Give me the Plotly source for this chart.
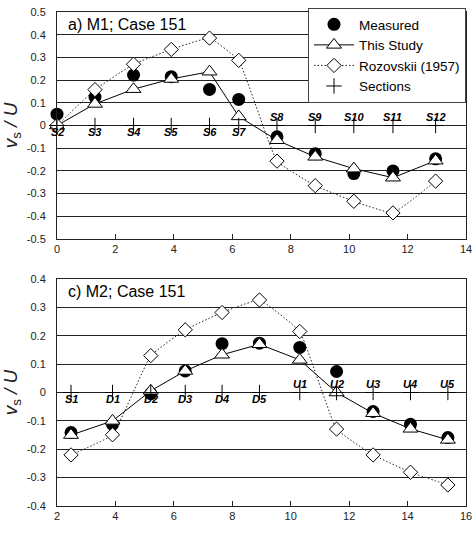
import plotly.graph_objects as go
from plotly.subplots import make_subplots

# ---- Panel a) M1; Case 151 ----
a_x = [0.0, 1.30, 2.62, 3.91, 5.22, 6.22, 7.53, 8.84, 10.16, 11.50, 12.96]
a_sections = ["S2", "S3", "S4", "S5", "S6", "S7", "S8", "S9", "S10", "S11", "S12"]
a_label_below = [True] * 6 + [False] * 5
a_measured = [0.05, 0.125, 0.222, 0.215, 0.159, 0.115, -0.05, -0.124, -0.212, -0.20, -0.147]
a_study = [0.0, 0.095, 0.16, 0.205, 0.237, 0.04, -0.065, -0.138, -0.19, -0.23, -0.155]
a_rozovskii = [0.0, 0.158, 0.27, 0.335, 0.385, 0.287, -0.157, -0.265, -0.334, -0.385, -0.245]

# ---- Panel c) M2; Case 151 ----
c_x = [2.48, 3.90, 5.21, 6.39, 7.65, 8.93, 10.31, 11.57, 12.82, 14.10, 15.38]
c_sections = ["S1", "D1", "D2", "D3", "D4", "D5", "U1", "U2", "U3", "U4", "U5"]
c_label_below = [True] * 6 + [False] * 5
c_measured = [-0.141, -0.112, -0.004, 0.076, 0.172, 0.174, 0.159, 0.074, -0.067, -0.112, -0.159]
c_study = [-0.15, -0.10, 0.006, 0.076, 0.133, 0.17, 0.115, 0.0, -0.073, -0.128, -0.167]
c_rozovskii = [-0.22, -0.149, 0.13, 0.221, 0.282, 0.326, 0.215, -0.129, -0.22, -0.281, -0.326]

a_title = "a) M1; Case 151"
c_title = "c) M2; Case 151"

FONT = "Liberation Sans, Arial, sans-serif"

fig = make_subplots(rows=2, cols=1, vertical_spacing=0.081)

def add_panel(row, xs, meas, study, roz, secs, below, show):
    fig.add_trace(go.Scatter(
        x=xs, y=meas, mode="markers", name="Measured", showlegend=show, cliponaxis=False,
        marker=dict(symbol="circle", size=13, color="black"),
    ), row=row, col=1)
    fig.add_trace(go.Scatter(
        x=xs, y=study, mode="lines+markers", name="This Study", showlegend=show, cliponaxis=False,
        line=dict(color="black", width=1),
        marker=dict(symbol="triangle-up", size=13, color="white",
                    line=dict(color="black", width=1)),
    ), row=row, col=1)
    fig.add_trace(go.Scatter(
        x=xs, y=roz, mode="lines+markers", name="Rozovskii (1957)", showlegend=show, cliponaxis=False,
        line=dict(color="#222", width=1, dash="1.5px,2px", shape="spline", smoothing=0.3),
        marker=dict(symbol="diamond", size=11, color="white",
                    line=dict(color="black", width=1)),
    ), row=row, col=1)
    fig.add_trace(go.Scatter(
        x=xs, y=[0] * len(xs), mode="markers", name="Sections", showlegend=show, cliponaxis=False,
        marker=dict(symbol="cross-thin", size=11, color="black",
                    line=dict(color="black", width=1)),
    ), row=row, col=1)
    for xv, s, b in zip(xs, secs, below):
        fig.add_annotation(
            x=xv, y=0, text=s, showarrow=False, row=row, col=1,
            xanchor="center", yanchor="middle", yshift=-6 if b else 9,
            font=dict(family=FONT, size=11, color="black", weight="bold", style="italic"),
        )

add_panel(1, a_x, a_measured, a_study, a_rozovskii, a_sections, a_label_below, True)
add_panel(2, c_x, c_measured, c_study, c_rozovskii, c_sections, c_label_below, False)

axis_common = dict(
    showline=True, linecolor="#222", linewidth=1, mirror=True, automargin=False,
    tickfont=dict(family=FONT, size=11, color="#222"),
)
fig.update_xaxes(**axis_common, showgrid=False, zeroline=False,
                 ticks="inside", ticklen=5, tickcolor="#222", dtick=2)
fig.update_yaxes(**axis_common, showgrid=True, gridcolor="#222", gridwidth=1,
                 zeroline=True, zerolinecolor="#222", zerolinewidth=1,
                 ticks="", dtick=0.1, ticklabelstandoff=8,
                 title=dict(text="<i>v</i><sub>s</sub><i> / U</i>",
                            font=dict(family=FONT, size=19, color="#222"),
                            standoff=6))
fig.update_xaxes(range=[0, 14], row=1, col=1)
fig.update_xaxes(range=[2, 16], row=2, col=1)
fig.update_yaxes(range=[-0.5, 0.5], tickvals=[0.5, 0.4, 0.3, 0.2, 0.1, 0, -0.1, -0.2, -0.3, -0.4, -0.5],
                 ticktext=["0.5", "0.4", "0.3", "0.2", "0.1", "0", "-0.1", "-0.2", "-0.3", "-0.4", "-0.5"],
                 row=1, col=1)
fig.update_yaxes(range=[-0.4, 0.4], tickvals=[0.4, 0.3, 0.2, 0.1, 0, -0.1, -0.2, -0.3, -0.4],
                 ticktext=["0.4", "0.3", "0.2", "0.1", "0", "-0.1", "-0.2", "-0.3", "-0.4"],
                 row=2, col=1)

fig.add_annotation(text=a_title, xref="x domain", yref="y domain", x=0.022, y=0.99,
                   xanchor="left", yanchor="top", showarrow=False,
                   font=dict(family=FONT, size=16, color="black"))
fig.add_annotation(text=c_title, xref="x2 domain", yref="y2 domain", x=0.022, y=0.99,
                   xanchor="left", yanchor="top", showarrow=False,
                   font=dict(family=FONT, size=16, color="black"))

fig.update_layout(
    width=475, height=536,
    margin=dict(l=57, r=9, t=12, b=30, autoexpand=False),
    paper_bgcolor="white", plot_bgcolor="white",
    font=dict(family=FONT, color="black"),
    legend=dict(x=1, y=1.008, xanchor="right", yanchor="top",
                bgcolor="white", bordercolor="#444", borderwidth=1,
                font=dict(family=FONT, size=13.5, color="black"),
                tracegroupgap=0, itemwidth=40),
)

fig.write_html("out.html", config={"displayModeBar": False},
               post_script="document.body.style.margin='0';document.body.style.overflow='hidden';")
